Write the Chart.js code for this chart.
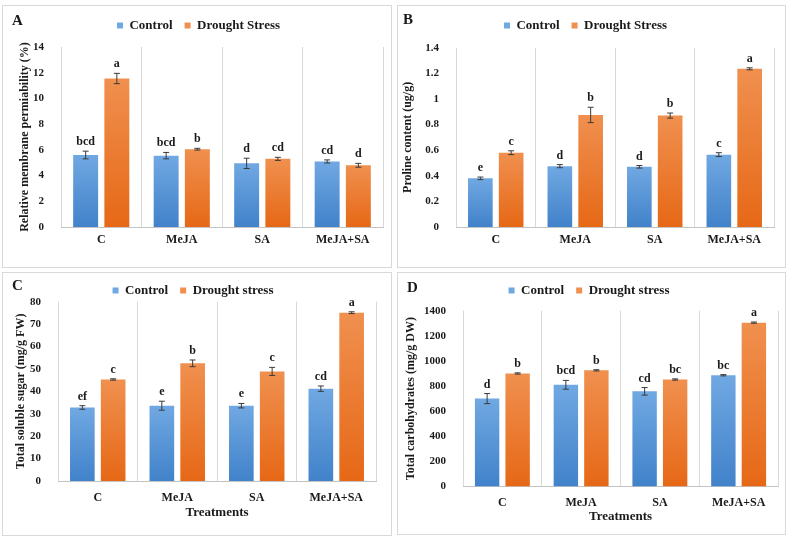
<!DOCTYPE html>
<html lang="en">
<head>
<meta charset="UTF-8">
<title>Drought stress treatments</title>
<script src="https://cdn.jsdelivr.net/npm/chart.js@4.4.1/dist/chart.umd.min.js"></script>
<style>
  html, body { margin: 0; padding: 0; background: #fff; }
  #page { position: relative; width: 789px; height: 542px; overflow: hidden; background: #fff; }
  .frame { position: absolute; box-sizing: border-box; border: 1px solid #d9d9d9; }
  canvas { position: absolute; }
  .tag { position: absolute; font: bold 15px "Liberation Serif", serif; color: #1a1a1a; line-height: 15px; }
</style>
</head>
<body>
<div id="page">
  <div class="frame" style="left:2px;top:5px;width:390px;height:263px"></div>
  <div class="frame" style="left:397px;top:5px;width:389px;height:263px"></div>
  <div class="frame" style="left:2px;top:272px;width:390px;height:264px"></div>
  <div class="frame" style="left:397px;top:272px;width:389px;height:263px"></div>
  <canvas id="cA" style="left:2px;top:5px"></canvas>
  <canvas id="cB" style="left:397px;top:5px"></canvas>
  <canvas id="cC" style="left:2px;top:272px"></canvas>
  <canvas id="cD" style="left:397px;top:272px"></canvas>
  <div class="tag" style="left:12px;top:13px">A</div>
  <div class="tag" style="left:403px;top:12px">B</div>
  <div class="tag" style="left:12px;top:278px">C</div>
  <div class="tag" style="left:407px;top:280px">D</div>
</div>
<script>
const treatments = ['C', 'MeJA', 'SA', 'MeJA+SA'];

// A - relative membrane permeability (%)
const rmpControl = [5.6, 5.55, 4.95, 5.1];
const rmpControlSe = [0.3, 0.25, 0.4, 0.12];
const rmpDrought = [11.55, 6.05, 5.3, 4.8];
const rmpDroughtSe = [0.4, 0.07, 0.12, 0.15];
const rmpControlLetters = ['bcd', 'bcd', 'd', 'cd'];
const rmpDroughtLetters = ['a', 'b', 'cd', 'd'];

// B - proline content (ug/g)
const prolineControl = [0.38, 0.475, 0.47, 0.565];
const prolineControlSe = [0.01, 0.012, 0.01, 0.015];
const prolineDrought = [0.58, 0.875, 0.87, 1.235];
const prolineDroughtSe = [0.015, 0.06, 0.02, 0.008];
const prolineControlLetters = ['e', 'd', 'd', 'c'];
const prolineDroughtLetters = ['c', 'b', 'b', 'a'];

// C - total soluble sugar (mg/g FW)
const sugarControl = [32.8, 33.6, 33.6, 41.2];
const sugarControlSe = [0.8, 2.0, 1.0, 1.2];
const sugarDrought = [45.3, 52.5, 48.9, 75.1];
const sugarDroughtSe = [0.3, 1.5, 1.8, 0.4];
const sugarControlLetters = ['ef', 'e', 'e', 'cd'];
const sugarDroughtLetters = ['c', 'b', 'c', 'a'];

// D - total carbohydrates (mg/g DW)
const carbControl = [700, 810, 758, 886];
const carbControlSe = [40, 35, 30, 5];
const carbDrought = [900, 925, 852, 1305];
const carbDroughtSe = [5, 5, 5, 5];
const carbControlLetters = ['d', 'bcd', 'cd', 'bc'];
const carbDroughtLetters = ['b', 'b', 'bc', 'a'];

const serif = '"Liberation Serif", "Times New Roman", serif';
const ink = '#1a1a1a';

// gradient per bar, like the office-style fill
function barFill(top, bottom, solid) {
  return (c) => {
    if (c.type !== 'data' || !c.chart.chartArea) return solid;
    const y = c.chart.scales.y;
    const y0 = y.getPixelForValue(c.raw);
    const y1 = y.getPixelForValue(0);
    const g = c.chart.ctx.createLinearGradient(0, y0, 0, y1);
    g.addColorStop(0, top);
    g.addColorStop(1, bottom);
    return g;
  };
}

// push chart area down a bit below the legend
const legendGap = {
  id: 'legendGap',
  beforeLayout(chart, args, opts) {
    const lg = chart.legend;
    if (lg && !lg._gapPatched) {
      const fit = lg.fit;
      lg.fit = function () { fit.call(this); this.height += opts.extra || 0; };
      lg._gapPatched = true;
    }
  }
};

const errorBars = {
  id: 'errorBars',
  afterDatasetsDraw(chart) {
    const ctx = chart.ctx;
    const y = chart.scales.y;
    ctx.save();
    chart.data.datasets.forEach((ds, i) => {
      chart.getDatasetMeta(i).data.forEach((bar, j) => {
        const v = ds.data[j], e = ds.se[j];
        const yt = y.getPixelForValue(v + e);
        const yb = y.getPixelForValue(v - e);
        ctx.strokeStyle = '#3a3a3a';
        ctx.lineWidth = 1;
        ctx.beginPath();
        ctx.moveTo(bar.x, yt); ctx.lineTo(bar.x, yb);
        ctx.moveTo(bar.x - 3, yt); ctx.lineTo(bar.x + 3, yt);
        ctx.moveTo(bar.x - 3, yb); ctx.lineTo(bar.x + 3, yb);
        ctx.stroke();
        ctx.fillStyle = ink;
        ctx.font = 'bold 12px ' + serif;
        ctx.textAlign = 'center';
        ctx.textBaseline = 'alphabetic';
        ctx.fillText(ds.letters[j], bar.x, yt - 6);
      });
    });
    ctx.restore();
  }
};

function makePanel(id, o) {
  const canvas = document.getElementById(id);
  canvas.width = o.w;
  canvas.height = o.h;
  return new Chart(canvas, {
    type: 'bar',
    data: {
      labels: treatments,
      datasets: [
        { label: 'Control', data: o.control, se: o.controlSe, letters: o.controlLetters,
          backgroundColor: barFill('#70a8e2', '#4182ca', '#4a8bd2') },
        { label: o.stressLabel, data: o.drought, se: o.droughtSe, letters: o.droughtLetters,
          backgroundColor: barFill('#f0904f', '#e66816', '#ee7a2c') }
      ]
    },
    options: {
      responsive: false,
      animation: false,
      layout: { padding: { left: o.padLeft, right: o.padRight, top: o.padTop, bottom: o.padBottom } },
      datasets: { bar: { categoryPercentage: 0.775, barPercentage: 0.8 } },
      plugins: {
        legend: {
          position: 'top',
          labels: { boxWidth: 6, boxHeight: 6, padding: 12, color: ink, font: { family: serif, size: 13, weight: 'bold' } }
        },
        tooltip: { enabled: false },
        legendGap: { extra: o.legendExtra }
      },
      scales: {
        x: {
          grid: { offset: true, color: '#d9d9d9', drawTicks: false },
          border: { color: '#c4c4c4' },
          ticks: { color: ink, padding: o.xTickPad, font: { family: serif, size: 12, weight: 'bold' } },
          title: { display: !!o.xTitle, text: o.xTitle, color: ink, padding: { top: 0, bottom: 4 },
                   font: { family: serif, size: 13, weight: 'bold' } },
          afterFit: (s) => { s.height = o.xHeight; }
        },
        y: {
          min: 0, max: o.yMax,
          grid: { display: false },
          border: { display: false },
          ticks: { stepSize: o.yStep, color: ink, padding: 9, font: { family: serif, size: 11, weight: 'bold' },
                   callback: (v) => String(Math.round(v * 100) / 100) },
          title: { display: true, text: o.yTitle, color: ink, padding: { top: 4, bottom: 4 },
                   font: { family: serif, size: 12, weight: 'bold' } },
          afterFit: (s) => { s.width = o.yWidth; }
        }
      }
    },
    plugins: [legendGap, errorBars]
  });
}

makePanel('cA', {
  w: 390, h: 263, padLeft: 12, yWidth: 47, padRight: 9, padTop: 2, padBottom: 0, xHeight: 41, legendExtra: 5, xTickPad: 6,
  control: rmpControl, controlSe: rmpControlSe, controlLetters: rmpControlLetters,
  drought: rmpDrought, droughtSe: rmpDroughtSe, droughtLetters: rmpDroughtLetters,
  stressLabel: 'Drought Stress', yMax: 14, yStep: 2, yTitle: 'Relative membrane permiability (%)'
});

makePanel('cB', {
  w: 389, h: 263, padLeft: 0, yWidth: 59, padRight: 12, padTop: 2, padBottom: 0, xHeight: 41, legendExtra: 5.7, xTickPad: 6,
  control: prolineControl, controlSe: prolineControlSe, controlLetters: prolineControlLetters,
  drought: prolineDrought, droughtSe: prolineDroughtSe, droughtLetters: prolineDroughtLetters,
  stressLabel: 'Drought Stress', yMax: 1.4, yStep: 0.2, yTitle: 'Proline content (ug/g)'
});

makePanel('cC', {
  w: 390, h: 264, padLeft: 8, yWidth: 48, padRight: 16, padTop: 0, padBottom: 12, xHeight: 43, legendExtra: -5.3, xTickPad: 10,
  control: sugarControl, controlSe: sugarControlSe, controlLetters: sugarControlLetters,
  drought: sugarDrought, droughtSe: sugarDroughtSe, droughtLetters: sugarDroughtLetters,
  stressLabel: 'Drought stress', yMax: 80, yStep: 10, yTitle: 'Total soluble sugar (mg/g FW)', xTitle: 'Treatments'
});

makePanel('cD', {
  w: 389, h: 263, padLeft: 3, yWidth: 63, padRight: 8, padTop: 0, padBottom: 7, xHeight: 41.5, legendExtra: 3.7, xTickPad: 9,
  control: carbControl, controlSe: carbControlSe, controlLetters: carbControlLetters,
  drought: carbDrought, droughtSe: carbDroughtSe, droughtLetters: carbDroughtLetters,
  stressLabel: 'Drought stress', yMax: 1400, yStep: 200, yTitle: 'Total carbohydrates (mg/g DW)', xTitle: 'Treatments'
});
</script>
</body>
</html>
